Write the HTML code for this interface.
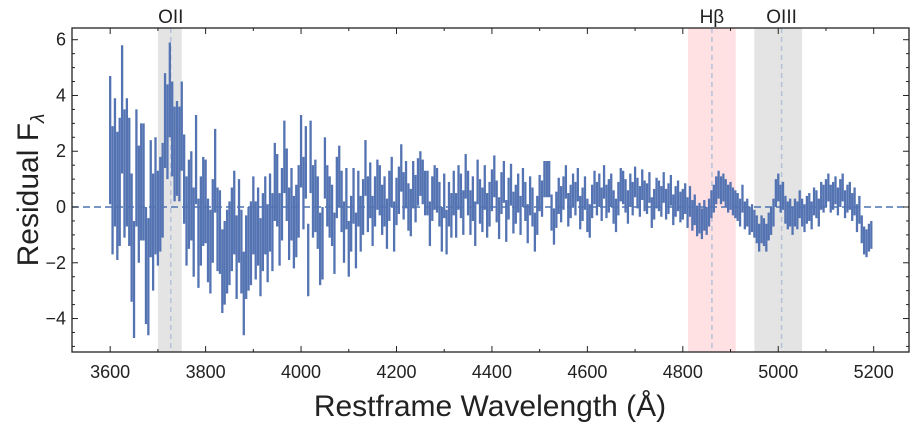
<!DOCTYPE html>
<html><head><meta charset="utf-8"><style>
body{margin:0;background:#fff;}
svg{display:block;font-family:"Liberation Sans",sans-serif;}
</style></head><body>
<svg id="chart" width="916" height="430"></svg>
<script>
const startWave = 3600, stepWave = 5;
const residuals = [
2.4,0.6,1.6,0.4,0.9,3.5,1.2,1.6,0.9,-1.1,
-2.6,1.4,0.1,0.9,0.9,-2.1,-2.5,0.3,-0.9,0.4,
-0.4,0.1,0.6,3.1,2.7,4.2,2.8,1.9,2.1,1.9,
2.9,1.0,-0.5,0.1,0.4,-0.9,1.7,-1.3,-0.5,0.2,
0.2,-1.2,-1.6,-0.5,1.3,-0.8,-0.9,-2.3,-2.0,-1.6,
-1.3,-0.8,-0.2,-1.8,-0.5,-1.6,-3.1,-1.8,-1.5,-1.3,
-0.3,-1.2,-0.7,-1.8,-0.9,-0.3,-1.3,-0.2,-0.9,0.9,
0.6,-0.8,0.1,1.8,0.8,-0.6,0.1,-0.9,-0.5,0.2,
2.0,0.5,1.6,-1.9,1.8,0.2,0.4,-0.2,-1.5,-1.3,
1.4,0.4,0.0,-0.3,-1.3,0.7,1.1,0.2,-0.9,0.3,
-1.5,-0.6,0.4,-1.2,0.3,-0.6,0.0,1.4,0.1,0.6,
-0.5,0.2,0.8,0.6,-0.1,0.2,-0.6,0.4,0.9,-0.7,
0.2,0.6,1.4,0.4,0.8,0.0,-0.2,0.8,0.3,0.9,
1.2,0.9,0.5,0.5,-0.6,0.3,0.7,0.6,0.1,-0.8,
0.4,-0.9,0.1,-0.3,0.5,-0.3,0.7,0.4,-0.2,1.1,
0.5,-0.2,0.3,-0.6,0.9,0.2,-0.1,0.7,-0.3,0.1,
0.6,1.1,0.2,-0.4,0.5,0.9,-0.5,0.3,0.8,-0.2,
0.1,0.5,-0.3,0.7,0.2,-0.6,0.4,0.0,-0.9,-0.3,
0.5,0.3,1.0,1.0,1.0,-0.2,-0.7,-0.1,0.4,0.1,
0.5,0.9,-0.1,0.2,0.6,0.3,0.8,-0.2,0.1,0.5,
-0.3,-0.5,0.2,0.7,0.3,0.6,0.1,0.9,0.2,0.4,
0.6,0.0,-0.3,0.3,0.8,0.7,0.4,0.0,0.6,0.3,
0.9,0.5,0.2,0.8,0.4,0.3,0.7,-0.2,0.1,0.5,
0.4,0.2,0.7,0.1,0.3,0.6,-0.1,0.2,0.4,0.0,
0.1,0.3,-0.2,0.2,-0.3,-0.1,-0.5,-0.4,-0.6,-0.3,
-0.5,-0.2,0.1,0.3,0.6,0.8,0.6,0.7,0.5,0.3,
0.4,0.2,0.1,0.0,-0.2,0.3,-0.3,-0.2,-0.5,-0.4,
-0.6,-0.8,-1.1,-0.8,-0.9,-1.1,-0.7,-0.5,-0.2,0.5,
0.7,0.3,0.4,-0.1,-0.3,-0.2,-0.5,-0.2,-0.3,0.1,
-0.2,-0.4,-0.1,0.0,-0.3,0.2,0.1,-0.2,0.4,0.3,
0.5,0.7,0.3,0.4,0.6,0.2,0.5,0.7,0.1,0.3,
0.4,0.0,0.2,-0.4,-0.1,-0.8,-1.2,-1.3,-1.1,-1.0];
const blockErrors = [2.3,2.1,1.7,1.6,1.5,1.5,1.4,1.3,1.3,1.1,1.0,0.9,0.85,0.8,0.8,0.8,0.75,0.7,0.65,0.6,0.6,0.6,0.55,0.55,0.55,0.5,0.5,0.5,0.5,0.5,0.5,0.5];
const xTicks = [3600,3800,4000,4200,4400,4600,4800,5000,5200];
const yTicks = [-4,-2,0,2,4,6];
const bandStarts = [3700,4811,4950];
const bandEnds = [3750,4911,5050];
const lineCenters = [3727,4861,5007];
const lineLabels = ["OII","Hβ","OIII"];

const svg = document.getElementById('chart');
const NS = 'http://www.w3.org/2000/svg';
const L=72,T=28,R=909,B=352, X0=3520,X1=5274, Y0=-5.2,Y1=6.42;
const xs = v => L + (v-X0)/(X1-X0)*(R-L);
const ys = v => B - (v-Y0)/(Y1-Y0)*(B-T);
function mk(tag, attrs, parent){const e=document.createElementNS(NS,tag);for(const k in attrs)e.setAttribute(k,attrs[k]);(parent||svg).appendChild(e);return e;}

bandStarts.forEach((s,i)=>{
  const r=mk('rect',{x:xs(s),y:T,width:xs(bandEnds[i])-xs(s),height:B-T,fill:i===1?'#ffe1e3':'#e4e4e4'});
  
  
  const l=mk('line',{x1:xs(lineCenters[i]),x2:xs(lineCenters[i]),y1:T,y2:B,stroke:'#b4c2d8','stroke-width':1.5,'stroke-dasharray':'5,4'});
  
  
  const t=mk('text',{x:xs(lineCenters[i]),y:23,'text-anchor':'middle','font-size':19,fill:'#222'});
  t.textContent=lineLabels[i];
  
  
});
const z=mk('line',{x1:L,x2:R,y1:ys(0),y2:ys(0),stroke:'#4c72b0','stroke-width':1.6,'stroke-dasharray':'7,4'});



const g=mk('g',{stroke:'#5473b2','stroke-width':2.3});


residuals.forEach((v,i)=>{
  const w=startWave+i*stepWave, e=blockErrors[Math.floor(i/10)];
  const b=mk('line',{x1:xs(w),x2:xs(w),y1:ys(v-e),y2:ys(v+e)},g);
  
  
});

const ax=mk('g',{stroke:'#222','stroke-width':1});


mk('rect',{x:L,y:T,width:R-L,height:B-T,fill:'none','stroke-width':1.3},ax);
for(let w=3600;w<=5200;w+=100){const x=xs(w),len=(w%200===0)?6:3;
  mk('line',{x1:x,x2:x,y1:B,y2:B-len},ax);mk('line',{x1:x,x2:x,y1:T,y2:T+len},ax);}
for(let v=-5;v<=6;v+=0.5){const y=ys(v),len=(v%2===0)?6:3;
  mk('line',{x1:L,x2:L+len,y1:y,y2:y},ax);mk('line',{x1:R,x2:R-len,y1:y,y2:y},ax);}
xTicks.forEach(w=>{const t=mk('text',{x:xs(w),y:378,'text-anchor':'middle','font-size':18,fill:'#222'});t.textContent=w;
  
  });
yTicks.forEach(v=>{const t=mk('text',{x:66,y:ys(v)+6,'text-anchor':'end','font-size':18,fill:'#222'});t.textContent=v<0?'−'+(-v):v;
  
  });
const xl=mk('text',{x:490,y:416,'text-anchor':'middle','font-size':30,fill:'#222'});
xl.textContent='Restframe Wavelength (Å)';


const yl=mk('text',{x:0,y:0,'text-anchor':'middle','font-size':30,fill:'#222',transform:'translate(38,190) rotate(-90)'});
yl.innerHTML='Residual F<tspan font-size="19" dy="6" font-style="italic">λ</tspan>';


</script>
</body></html>
